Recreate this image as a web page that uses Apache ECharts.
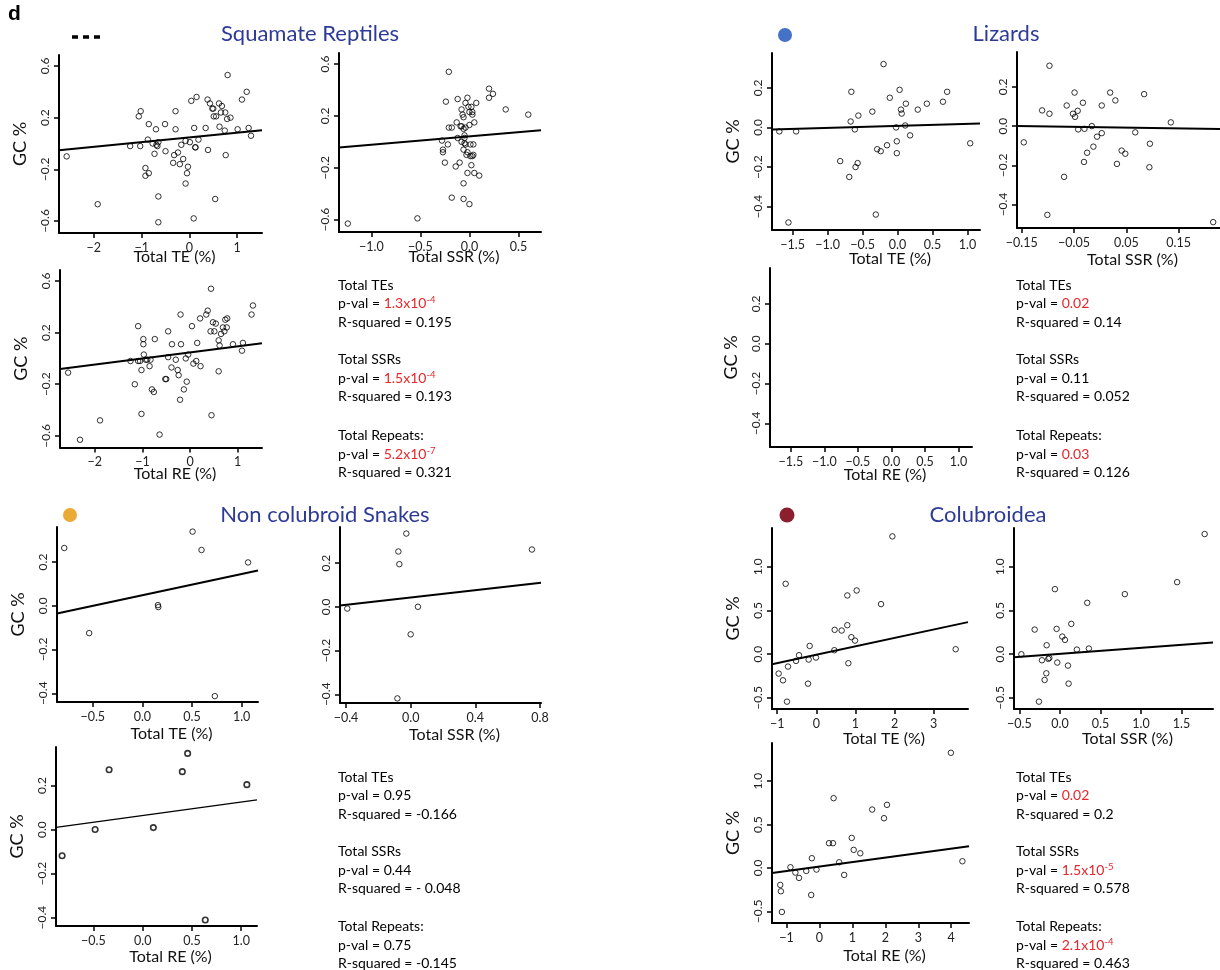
<!DOCTYPE html>
<html><head><meta charset="utf-8">
<script src="https://cdn.jsdelivr.net/npm/echarts@6/dist/echarts.min.js"></script>
<style>html,body{margin:0;padding:0;background:#fff}#c{width:1220px;height:970px}</style>
</head><body><div id="c"></div>
<script>
// ---------- DATA ----------
const sqTE = [[-2.57,-0.10],[-1.92,-0.47],[-1.24,-0.02],[-1.06,0.21],[-1.02,0.25],[-1.03,-0.02],[-0.92,-0.19],[-0.92,-0.25],[-0.85,-0.23],[-0.85,0.15],[-0.87,0.03],[-0.77,0.0],[-0.73,-0.08],[-0.70,0.11],[-0.69,-0.01],[-0.65,0.01],[-0.67,-0.02],[-0.65,-0.41],[-0.65,-0.61],[-0.51,0.15],[-0.50,-0.06],[-0.34,-0.15],[-0.32,-0.09],[-0.29,0.25],[-0.29,0.11],[-0.24,-0.07],[-0.20,-0.16],[-0.17,-0.01],[-0.13,-0.12],[-0.08,0.02],[-0.08,-0.31],[-0.05,-0.23],[-0.03,-0.18],[0.01,0.01],[0.04,0.33],[0.09,-0.58],[0.10,0.12],[0.12,-0.03],[0.13,-0.03],[0.15,0.36],[0.19,0.03],[0.34,0.12],[0.39,-0.05],[0.38,0.34],[0.43,0.31],[0.48,0.27],[0.50,0.27],[0.51,0.21],[0.54,-0.43],[0.56,0.21],[0.62,0.31],[0.63,0.13],[0.66,0.24],[0.68,0.29],[0.74,0.10],[0.75,0.24],[0.76,-0.09],[0.80,0.53],[0.79,0.19],[0.86,0.20],[1.01,0.11],[1.10,0.34],[1.20,0.40],[1.24,0.12],[1.29,0.06]];
const sqSSR = [[-1.24,-0.63],[-0.53,-0.59],[-0.21,0.54],[-0.24,0.31],[-0.28,0.01],[-0.27,-0.06],[-0.27,-0.08],[-0.25,-0.16],[-0.22,-0.02],[-0.21,0.11],[-0.18,0.11],[-0.18,-0.43],[-0.14,-0.19],[-0.13,0.15],[-0.12,0.33],[-0.10,-0.16],[-0.12,0.03],[-0.09,0.12],[-0.08,0.12],[-0.08,0.0],[-0.08,0.25],[-0.07,0.21],[-0.06,0.19],[-0.06,-0.06],[-0.06,-0.44],[-0.06,-0.32],[-0.06,0.10],[-0.05,0.05],[-0.05,0.03],[-0.05,-0.01],[-0.04,0.30],[-0.04,0.11],[-0.03,-0.10],[-0.04,-0.02],[-0.02,-0.08],[-0.02,-0.24],[-0.02,0.34],[-0.01,0.27],[0.0,0.23],[0.0,-0.48],[0.0,0.13],[0.01,-0.02],[0.01,-0.11],[0.02,-0.18],[0.02,0.27],[0.03,0.23],[0.03,0.21],[0.03,-0.11],[0.04,-0.10],[0.04,-0.02],[0.05,-0.24],[0.05,0.15],[0.07,0.30],[0.10,-0.26],[0.20,0.41],[0.20,0.34],[0.24,0.37],[0.37,0.25],[0.60,0.21]];
const sqRE = [[-2.56,-0.11],[-2.31,-0.63],[-1.89,-0.48],[-1.25,-0.02],[-1.16,-0.20],[-1.09,0.25],[-1.09,-0.02],[-1.05,-0.02],[-1.02,-0.09],[-1.02,-0.43],[-0.98,0.15],[-0.98,0.11],[-0.97,0.03],[-0.93,-0.01],[-0.90,-0.01],[-0.85,-0.06],[-0.83,-0.01],[-0.80,-0.24],[-0.76,-0.26],[-0.74,0.15],[-0.64,-0.59],[-0.52,-0.16],[-0.50,-0.16],[-0.46,0.21],[-0.46,0.01],[-0.39,-0.07],[-0.38,0.11],[-0.30,-0.01],[-0.26,-0.09],[-0.24,-0.13],[-0.21,-0.32],[-0.20,0.34],[-0.19,0.11],[-0.13,-0.24],[-0.09,0.0],[-0.07,-0.18],[-0.04,0.03],[0.04,0.25],[0.07,-0.04],[0.13,-0.02],[0.15,0.12],[0.21,0.31],[0.22,-0.06],[0.34,0.34],[0.37,0.37],[0.43,0.21],[0.44,0.54],[0.45,-0.44],[0.48,0.28],[0.51,0.21],[0.54,0.27],[0.60,0.14],[0.60,-0.10],[0.62,0.10],[0.65,0.19],[0.69,0.24],[0.72,0.21],[0.74,0.30],[0.77,0.24],[0.78,0.31],[0.90,0.11],[1.09,0.06],[1.11,0.12],[1.29,0.34],[1.32,0.41]];
const lzTE = [[-1.69,-0.02],[-1.45,-0.02],[-1.56,-0.48],[-0.82,-0.17],[-0.69,-0.25],[-0.67,0.03],[-0.66,0.18],[-0.61,-0.01],[-0.60,-0.20],[-0.57,-0.18],[-0.56,0.06],[-0.36,0.08],[-0.31,-0.44],[-0.29,-0.11],[-0.24,-0.12],[-0.20,0.32],[-0.15,-0.09],[-0.11,0.15],[-0.02,0.0],[-0.01,-0.07],[-0.01,-0.13],[0.03,0.19],[0.05,0.09],[0.06,0.07],[0.11,0.01],[0.12,0.12],[0.18,-0.04],[0.29,0.09],[0.42,0.12],[0.65,0.13],[0.71,0.18],[1.04,-0.08]];
const lzSSR = [[-0.146,-0.083],[-0.111,0.080],[-0.097,0.308],[-0.097,0.063],[-0.101,-0.453],[-0.069,-0.259],[-0.064,0.105],[-0.052,0.063],[-0.049,0.171],[-0.048,0.047],[-0.043,0.078],[-0.042,-0.017],[-0.033,0.119],[-0.031,-0.183],[-0.030,-0.014],[-0.025,-0.136],[-0.016,0.0],[-0.013,-0.105],[-0.006,-0.054],[0.003,0.105],[0.003,-0.036],[0.019,0.171],[0.029,0.131],[0.032,-0.193],[0.041,-0.125],[0.048,-0.141],[0.067,-0.032],[0.084,0.163],[0.094,-0.210],[0.095,-0.090],[0.135,0.019],[0.216,-0.490]];
const ncTE = [[-0.787,0.264],[-0.536,-0.125],[0.157,0.003],[0.161,-0.006],[0.506,0.339],[0.596,0.255],[1.065,0.198],[0.73,-0.413]];
const ncSSR = [[-0.392,-0.008],[-0.076,0.253],[-0.070,0.195],[-0.027,0.335],[-0.082,-0.419],[0.0,-0.126],[0.045,0.0],[0.75,0.262]];
const ncRE = [[-0.818,-0.119],[-0.483,0.0],[-0.341,0.272],[0.108,0.009],[0.402,0.263],[0.456,0.346],[0.635,-0.411],[1.057,0.204]];
const coTE = [[-0.964,-0.221],[-0.853,-0.298],[-0.785,0.805],[-0.751,-0.542],[-0.725,-0.141],[-0.520,-0.076],[-0.443,-0.011],[-0.213,-0.336],[-0.196,-0.061],[-0.171,0.095],[-0.009,-0.038],[0.461,0.046],[0.469,0.279],[0.648,0.271],[0.793,0.672],[0.793,0.332],[0.819,-0.103],[0.896,0.195],[0.989,0.156],[1.032,0.729],[1.655,0.573],[1.945,1.347],[3.565,0.057]];
const coSSR = [[-0.476,0.0],[-0.312,0.282],[-0.222,-0.069],[-0.189,-0.294],[-0.168,-0.218],[-0.164,0.103],[-0.144,-0.053],[-0.131,-0.042],[-0.259,-0.542],[-0.062,0.744],[-0.041,0.290],[-0.033,-0.095],[0.029,0.202],[0.062,0.164],[0.099,-0.130],[0.107,-0.336],[0.140,0.347],[0.209,0.053],[0.337,0.588],[0.357,0.065],[0.801,0.687],[1.446,0.824],[1.786,1.374]];
const coRE = [[-1.19,-0.196],[-1.17,-0.269],[-1.14,-0.508],[-0.88,0.008],[-0.73,-0.054],[-0.62,-0.115],[-0.40,-0.035],[-0.25,-0.312],[-0.23,0.112],[-0.09,-0.019],[0.29,0.285],[0.41,0.285],[0.43,0.804],[0.60,0.065],[0.75,-0.081],[0.98,0.346],[1.04,0.208],[1.24,0.169],[1.60,0.673],[1.96,0.573],[2.05,0.727],[3.99,1.327],[4.34,0.077]];

// regression lines: [intercept, slope]
const fitSqTE = [0.047, 0.0363], fitSqSSR = [0.042, 0.064], fitSqRE = [0.047, 0.047];
const fitLzTE = [0.008, 0.0101], fitLzSSR = [-0.006, -0.039];
const fitNcTE = [0.048, 0.097], fitNcSSR = [0.043, 0.0838], fitNcRE = [0.064, 0.061];
const fitCoTE = [-0.006, 0.0962], fitCoSSR = [0.005, 0.0684], fitCoRE = [0.016, 0.0515];

// tick values
const ticksX_sqTE = [-2,-1,0,1], ticksX_sqSSR = [-1,-0.5,0,0.5], ticksX_sqRE = [-2,-1,0,1];
const ticksX_lzTE = [-1.5,-1,-0.5,0,0.5,1], ticksX_lzSSR = [-0.15,-0.05,0.05,0.15], ticksX_lzRE = [-1.5,-1,-0.5,0,0.5,1];
const ticksX_ncTE = [-0.5,0,0.5,1], ticksX_ncSSR = [-0.4,0,0.4,0.8], ticksX_ncRE = [-0.5,0,0.5,1];
const ticksX_coTE = [-1,0,1,2,3], ticksX_coSSR = [-0.5,0,0.5,1,1.5], ticksX_coRE = [-1,0,1,2,3,4];
const ticksY_sq = [-0.6,-0.2,0.2,0.6], ticksY_lz = [-0.4,-0.2,0,0.2], ticksY_nc = [-0.4,-0.2,0,0.2], ticksY_co = [-0.5,0,0.5,1];

// text
const titles = ['Squamate Reptiles','Lizards','Non colubroid Snakes','Colubroidea'];
const statsSq = [['Total TEs','1.3x10','-4',true,'0.195'],['Total SSRs','1.5x10','-4',true,'0.193'],['Total Repeats:','5.2x10','-7',true,'0.321']];
const statsLz = [['Total TEs','0.02','',true,'0.14'],['Total SSRs','0.11','',false,'0.052'],['Total Repeats:','0.03','',true,'0.126']];
const statsNc = [['Total TEs','0.95','',false,'-0.166'],['Total SSRs','0.44','',false,'- 0.048'],['Total Repeats:','0.75','',false,'-0.145']];
const statsCo = [['Total TEs','0.02','',true,'0.2'],['Total SSRs','1.5x10','-5',true,'0.578'],['Total Repeats:','2.1x10','-4',true,'0.463']];

// ---------- LAYOUT ----------
const F = 'Lato, "Open Sans", sans-serif';
const panels = [
 {d:sqTE, f:fitSqTE, g:[59,55,203,178], xr:[-2.73,1.52], yr:[-0.693,0.685], xt:ticksX_sqTE, xd:0, yt:ticksY_sq, xn:'Total TE (%)', ng:16, yn:true},
 {d:sqSSR,f:fitSqSSR,g:[339,53,202,179], xr:[-1.33,0.73], yr:[-0.695,0.685], xt:ticksX_sqSSR, xd:1, yt:ticksY_sq, xn:'Total SSR (%)', ng:17, yn:false},
 {d:sqRE, f:fitSqRE, g:[60,270,202,177.5], xr:[-2.73,1.51], yr:[-0.69,0.685], xt:ticksX_sqRE, xd:0, yt:ticksY_sq, xn:'Total RE (%)', ng:18, yn:true},
 {d:lzTE, f:fitLzTE, g:[772,53,208,177], xr:[-1.795,1.18], yr:[-0.518,0.376], xt:ticksX_lzTE, xd:1, yt:ticksY_lz, xn:'Total TE (%)', ng:21, yn:true},
 {d:lzSSR,f:fitLzSSR,g:[1017,52,203,176], xr:[-0.159,0.229], yr:[-0.52,0.378], xt:ticksX_lzSSR, xd:2, yt:ticksY_lz, xn:'Total SSR (%)', ng:24, yn:false},
 {d:null, f:null,    g:[770,268,202,179], xr:[-1.81,1.20], yr:[-0.518,0.38], xt:ticksX_lzRE, xd:1, yt:ticksY_lz, xn:'Total RE (%)', ng:20, yn:true},
 {d:ncTE, f:fitNcTE, g:[57,527,201,175], xr:[-0.86,1.165], yr:[-0.44,0.36], xt:ticksX_ncTE, xd:1, yt:ticksY_nc, xn:'Total TE (%)', ng:24, yn:true},
 {d:ncSSR,f:fitNcSSR,g:[340,527,201,176], xr:[-0.437,0.806], yr:[-0.44,0.365], xt:ticksX_ncSSR, xd:1, yt:ticksY_nc, xn:'Total SSR (%)', ng:24, yn:false},
 {d:ncRE, f:fitNcRE, g:[56,747,201,179], xr:[-0.88,1.16], yr:[-0.438,0.375], xt:ticksX_ncRE, xd:1, yt:ticksY_nc, xn:'Total RE (%)', ng:23, yn:true, thin:true},
 {d:coTE, f:fitCoTE, g:[772,528,196,181], xr:[-1.134,3.88], yr:[-0.626,1.443], xt:ticksX_coTE, xd:0, yt:ticksY_co, xn:'Total TE (%)', ng:22, yn:true},
 {d:coSSR,f:fitCoSSR,g:[1014,528,199,181], xr:[-0.567,1.889], yr:[-0.626,1.443], xt:ticksX_coSSR, xd:1, yt:ticksY_co, xn:'Total SSR (%)', ng:22, yn:false},
 {d:coRE, f:fitCoRE, g:[772,743,197,180], xr:[-1.44,4.54], yr:[-0.635,1.44], xt:ticksX_coRE, xd:0, yt:ticksY_co, xn:'Total RE (%)', ng:25, yn:true}
];

function fmt(v, d){ const s = Math.abs(v).toFixed(d); return (v < -1e-9 ? '\u2212' : '') + s; }
function ydec(ticks){ return ticks.some(t => Math.abs(t*10 - Math.round(t*10)) > 1e-6) ? 2 : 1; }

const grid = [], xAxis = [], yAxis = [], series = [];
panels.forEach((p, i) => {
  grid.push({left:p.g[0], top:p.g[1], width:p.g[2], height:p.g[3]});
  const yd = ydec(p.yt);
  xAxis.push({type:'value', gridIndex:i, min:p.xr[0], max:p.xr[1],
    axisLine:{show:true, onZero:false, lineStyle:{color:'#000', width:2}},
    axisTick:{show:true, length:5, lineStyle:{color:'#000', width:1.5}, customValues:p.xt},
    axisLabel:{customValues:p.xt, formatter:v => fmt(v, p.xd), fontFamily:F, fontSize:12.5, color:'#222', margin:8,
      hideOverlap:false, showMinLabel:true, showMaxLabel:true},
    splitLine:{show:false},
    name:p.xn, nameLocation:'middle', nameGap:p.ng, nameMoveOverlap:false,
    nameTextStyle:{fontFamily:F, fontSize:16, color:'#111', padding:[0,0,0,28]}});
  yAxis.push({type:'value', gridIndex:i, min:p.yr[0], max:p.yr[1],
    axisLine:{show:true, onZero:false, lineStyle:{color:'#000', width:2}},
    axisTick:{show:true, length:5, lineStyle:{color:'#000', width:1.5}, customValues:p.yt},
    axisLabel:{customValues:p.yt, formatter:v => fmt(v, yd), rotate:90, fontFamily:F, fontSize:12, color:'#222', margin:8,
      hideOverlap:false, showMinLabel:true, showMaxLabel:true},
    splitLine:{show:false},
    name:p.yn ? 'GC %' : '', nameLocation:'middle', nameGap:30, nameMoveOverlap:false,
    nameTextStyle:{fontFamily:F, fontSize:18, color:'#111'}});
  if (p.d) {
    series.push({type:'scatter', xAxisIndex:i, yAxisIndex:i, data:p.d, symbol:'circle', symbolSize:5.5,
      itemStyle:{color:'rgba(0,0,0,0)', borderColor:'#000', borderWidth:p.thin ? 1.6 : 1}, silent:true});
    const x0 = p.xr[0], x1 = p.xr[1];
    series.push({type:'line', xAxisIndex:i, yAxisIndex:i, showSymbol:false, silent:true, z:3,
      data:[[x0, p.f[0] + p.f[1]*x0], [x1, p.f[0] + p.f[1]*x1]],
      lineStyle:{color:'#000', width:p.thin ? 1.3 : 2}});
  }
});

// ---------- GRAPHICS ----------
const BLUE = '#2e3b96', RED = '#e8262b';
const graphic = [];
function txt(x, y, text, style){ graphic.push({type:'text', x, y, style:Object.assign({text, fontFamily:F, fill:'#000'}, style)}); }
txt(8, 14, 'd', {fontSize:21, fontWeight:'bold', verticalAlign:'middle', fontFamily:'Liberation Sans, Arial, sans-serif'});
graphic.push({type:'line', shape:{x1:72, y1:37, x2:103, y2:37}, style:{stroke:'#000', lineWidth:3.5, lineDash:[6,5]}});
txt(310, 34, titles[0], {fontSize:22, fill:BLUE, align:'center', verticalAlign:'middle'});
txt(1006, 34, titles[1], {fontSize:22, fill:BLUE, align:'center', verticalAlign:'middle'});
txt(325, 515, titles[2], {fontSize:22, fill:BLUE, align:'center', verticalAlign:'middle'});
txt(988, 515, titles[3], {fontSize:22, fill:BLUE, align:'center', verticalAlign:'middle'});
graphic.push({type:'circle', shape:{cx:785, cy:35, r:7}, style:{fill:'#4472c4'}});
graphic.push({type:'circle', shape:{cx:70, cy:515, r:7}, style:{fill:'#eba935'}});
graphic.push({type:'circle', shape:{cx:787, cy:515, r:7.5}, style:{fill:'#8b1f2b'}});

function statBlock(x, ys, stats){
  stats.forEach((s, k) => {
    const y = ys[k];
    txt(x, y, s[0], {fontSize:14, verticalAlign:'middle'});
    const col = s[3] ? RED : '#000';
    graphic.push({type:'text', x, y:y + 18.5, style:{
      text:'{n|p-val = }{v|' + s[1] + '}' + (s[2] ? '{s|' + s[2] + '}' : ''),
      verticalAlign:'middle', fontFamily:F,
      rich:{n:{fontSize:14, fill:'#000', fontFamily:F, lineHeight:17},
            v:{fontSize:14, fill:col, fontFamily:F, lineHeight:17},
            s:{fontSize:9.5, fill:col, fontFamily:F, lineHeight:17, verticalAlign:'top'}}}});
    txt(x, y + 37, 'R-squared = ' + s[4], {fontSize:14, verticalAlign:'middle'});
  });
}
statBlock(338, [285, 359.5, 435.5], statsSq);
statBlock(1016, [285, 359.5, 435.5], statsLz);
statBlock(338, [777, 851.5, 926.5], statsNc);
statBlock(1016, [777, 851.5, 926.5], statsCo);

const chart = echarts.init(document.getElementById('c'), null, {renderer:'canvas'});
chart.setOption({animation:false, backgroundColor:'#fff', grid, xAxis, yAxis, series, graphic});
</script>
</body></html>
